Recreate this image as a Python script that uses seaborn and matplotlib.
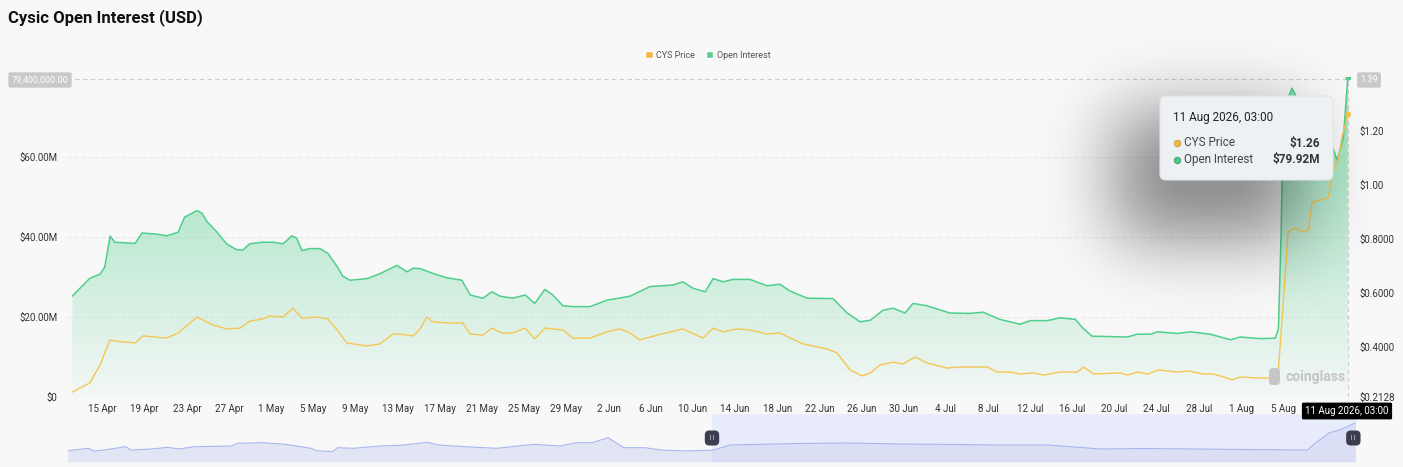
import math
import numpy as np
import pandas as pd
import matplotlib
matplotlib.use("Agg")
import matplotlib.pyplot as plt
import matplotlib.dates as mdates
import matplotlib.colors as mcolors
from matplotlib.patches import Patch, FancyBboxPatch
import seaborn as sns

# ---- data ----
oi_time = [
    "2026-04-12 03:00", "2026-04-13 19:00", "2026-04-14 18:00", "2026-04-15 05:00", "2026-04-15 17:00",
    "2026-04-16 04:00", "2026-04-18 02:00", "2026-04-18 18:00", "2026-04-20 04:00", "2026-04-21 02:00",
    "2026-04-22 04:00", "2026-04-22 19:00", "2026-04-23 23:00", "2026-04-24 10:00", "2026-04-24 22:00",
    "2026-04-25 20:00", "2026-04-26 19:00", "2026-04-27 18:00", "2026-04-28 08:00", "2026-04-28 23:00",
    "2026-04-30 05:00", "2026-05-01 04:00", "2026-05-02 03:00", "2026-05-02 23:00", "2026-05-03 10:00",
    "2026-05-03 22:00", "2026-05-04 16:00", "2026-05-05 15:00", "2026-05-06 09:00", "2026-05-07 06:00",
    "2026-05-07 19:00", "2026-05-08 11:00", "2026-05-10 02:00", "2026-05-11 07:00", "2026-05-12 22:00",
    "2026-05-13 21:00", "2026-05-14 11:00", "2026-05-15 03:00", "2026-05-16 08:00", "2026-05-17 16:00",
    "2026-05-19 02:00", "2026-05-19 21:00", "2026-05-21 02:00", "2026-05-21 22:00", "2026-05-22 17:00",
    "2026-05-23 22:00", "2026-05-25 02:00", "2026-05-26 00:00", "2026-05-26 23:00", "2026-05-27 17:00",
    "2026-05-28 16:00", "2026-05-29 15:00", "2026-05-31 06:00", "2026-06-01 20:00", "2026-06-04 01:00",
    "2026-06-05 22:00", "2026-06-08 03:00", "2026-06-09 01:00", "2026-06-10 00:00", "2026-06-11 04:00",
    "2026-06-11 22:00", "2026-06-12 21:00", "2026-06-13 19:00", "2026-06-15 10:00", "2026-06-17 01:00",
    "2026-06-18 06:00", "2026-06-19 05:00", "2026-06-20 20:00", "2026-06-23 07:00", "2026-06-24 15:00",
    "2026-06-25 21:00", "2026-06-26 20:00", "2026-06-28 01:00", "2026-06-29 00:00", "2026-06-30 03:00",
    "2026-06-30 21:00", "2026-07-02 05:00", "2026-07-04 09:00", "2026-07-06 07:00", "2026-07-07 13:00",
    "2026-07-09 03:00", "2026-07-11 01:00", "2026-07-12 00:00", "2026-07-13 15:00", "2026-07-14 20:00",
    "2026-07-16 07:00", "2026-07-16 23:00", "2026-07-17 21:00", "2026-07-21 05:00", "2026-07-22 04:00",
    "2026-07-23 10:00", "2026-07-24 02:00", "2026-07-25 23:00", "2026-07-27 05:00", "2026-07-29 02:00",
    "2026-07-31 00:00", "2026-07-31 22:00", "2026-08-02 20:00", "2026-08-04 06:00", "2026-08-04 13:00",
    "2026-08-04 19:00", "2026-08-04 23:00", "2026-08-05 08:00", "2026-08-05 20:00", "2026-08-06 06:00",
    "2026-08-06 20:00", "2026-08-07 16:00", "2026-08-08 12:00", "2026-08-09 11:00", "2026-08-10 03:00",
    "2026-08-10 17:00", "2026-08-11 03:00",
]
oi_musd = [
    25.2, 29.7, 30.7, 32.5, 40.2,
    38.7, 38.4, 41.0, 40.7, 40.3,
    41.2, 45.0, 46.6, 46.0, 43.8,
    41.3, 38.2, 36.8, 36.8, 38.3,
    38.7, 38.7, 38.3, 40.3, 39.7,
    36.6, 37.1, 37.1, 35.9, 32.6,
    30.2, 29.2, 29.6, 30.8, 32.9,
    31.3, 32.2, 32.1, 30.9, 29.8,
    29.2, 25.5, 24.7, 26.3, 25.2,
    24.7, 25.5, 23.4, 26.9, 25.5,
    22.8, 22.6, 22.6, 24.2, 25.2,
    27.6, 28.0, 28.8, 27.2, 26.3,
    29.6, 28.8, 29.4, 29.4, 27.8,
    28.2, 26.5, 24.7, 24.6, 21.0,
    18.8, 19.2, 21.7, 22.2, 21.0,
    23.4, 22.8, 21.0, 20.9, 21.2,
    19.4, 18.2, 19.1, 19.1, 19.8,
    19.4, 17.3, 15.2, 15.0, 15.7,
    15.7, 16.3, 15.9, 16.3, 15.7,
    14.3, 15.0, 14.6, 14.7, 17.0,
    40.0, 66.0, 74.0, 77.2, 75.0,
    71.0, 69.0, 67.0, 64.0, 59.2,
    65.0, 79.92,
]

price_time = [
    "2026-04-12 03:00", "2026-04-13 19:00", "2026-04-14 18:00", "2026-04-15 05:00", "2026-04-15 17:00",
    "2026-04-16 04:00", "2026-04-18 02:00", "2026-04-18 20:00", "2026-04-21 02:00", "2026-04-22 04:00",
    "2026-04-23 23:00", "2026-04-25 11:00", "2026-04-26 19:00", "2026-04-28 01:00", "2026-04-28 23:00",
    "2026-04-30 05:00", "2026-04-30 21:00", "2026-05-02 03:00", "2026-05-03 01:00", "2026-05-03 22:00",
    "2026-05-05 08:00", "2026-05-06 09:00", "2026-05-07 06:00", "2026-05-08 04:00", "2026-05-10 02:00",
    "2026-05-11 07:00", "2026-05-12 13:00", "2026-05-13 05:00", "2026-05-14 11:00", "2026-05-15 03:00",
    "2026-05-15 18:00", "2026-05-16 08:00", "2026-05-17 16:00", "2026-05-19 04:00", "2026-05-19 21:00",
    "2026-05-21 02:00", "2026-05-21 22:00", "2026-05-22 21:00", "2026-05-23 22:00", "2026-05-25 02:00",
    "2026-05-26 00:00", "2026-05-26 23:00", "2026-05-28 16:00", "2026-05-29 15:00", "2026-05-31 06:00",
    "2026-06-01 20:00", "2026-06-03 02:00", "2026-06-04 01:00", "2026-06-04 23:00", "2026-06-06 14:00",
    "2026-06-09 01:00", "2026-06-10 23:00", "2026-06-11 22:00", "2026-06-12 21:00", "2026-06-14 05:00",
    "2026-06-15 10:00", "2026-06-17 01:00", "2026-06-18 06:00", "2026-06-20 11:00", "2026-06-22 17:00",
    "2026-06-23 16:00", "2026-06-24 22:00", "2026-06-26 01:00", "2026-06-26 20:00", "2026-06-27 18:00",
    "2026-06-29 00:00", "2026-06-29 22:00", "2026-07-01 02:00", "2026-07-02 05:00", "2026-07-04 03:00",
    "2026-07-05 08:00", "2026-07-07 22:00", "2026-07-08 21:00", "2026-07-10 02:00", "2026-07-11 01:00",
    "2026-07-12 07:00", "2026-07-13 06:00", "2026-07-14 20:00", "2026-07-16 11:00", "2026-07-17 01:00",
    "2026-07-18 00:00", "2026-07-20 13:00", "2026-07-21 05:00", "2026-07-22 04:00", "2026-07-23 04:00",
    "2026-07-24 03:00", "2026-07-25 23:00", "2026-07-27 00:00", "2026-07-28 10:00", "2026-07-29 09:00",
    "2026-07-30 08:00", "2026-07-31 04:00", "2026-07-31 22:00", "2026-08-02 20:00", "2026-08-04 06:00",
    "2026-08-04 13:00", "2026-08-05 00:00", "2026-08-05 11:00", "2026-08-06 03:00", "2026-08-06 22:00",
    "2026-08-07 09:00", "2026-08-07 18:00", "2026-08-08 12:00", "2026-08-09 06:00", "2026-08-09 18:00",
    "2026-08-10 05:00", "2026-08-10 14:00", "2026-08-11 03:00",
]
price_usd = [
    0.231, 0.265, 0.331, 0.376, 0.424,
    0.420, 0.413, 0.439, 0.431, 0.450,
    0.509, 0.480, 0.465, 0.468, 0.494,
    0.502, 0.513, 0.509, 0.542, 0.505,
    0.509, 0.502, 0.461, 0.413, 0.402,
    0.409, 0.446, 0.446, 0.439, 0.465,
    0.509, 0.491, 0.487, 0.487, 0.446,
    0.442, 0.468, 0.450, 0.450, 0.468,
    0.428, 0.468, 0.461, 0.431, 0.431,
    0.454, 0.465, 0.450, 0.424, 0.442,
    0.465, 0.431, 0.468, 0.454, 0.465,
    0.461, 0.446, 0.450, 0.409, 0.391,
    0.376, 0.313, 0.291, 0.302, 0.331,
    0.342, 0.335, 0.361, 0.339, 0.320,
    0.324, 0.324, 0.305, 0.305, 0.298,
    0.302, 0.294, 0.305, 0.305, 0.324,
    0.298, 0.302, 0.294, 0.305, 0.298,
    0.313, 0.305, 0.309, 0.298, 0.298,
    0.287, 0.276, 0.287, 0.283, 0.283,
    0.313, 0.561, 0.824, 0.839, 0.824,
    0.831, 0.935, 0.942, 0.950, 1.053,
    1.090, 1.176, 1.26,
]

# navigator (overview strip) series, relative height
nav_time = [
    "2025-12-11", "2025-12-15", "2025-12-16", "2025-12-18", "2025-12-22", "2025-12-23", "2025-12-27",
    "2025-12-30", "2026-01-01", "2026-01-04", "2026-01-11", "2026-01-12", "2026-01-17", "2026-01-21",
    "2026-01-26", "2026-01-27", "2026-01-30", "2026-01-31", "2026-02-03", "2026-02-08", "2026-02-12",
    "2026-02-17", "2026-02-19", "2026-02-24", "2026-03-02", "2026-03-09", "2026-03-14", "2026-03-17",
    "2026-03-20", "2026-03-23", "2026-03-26", "2026-03-30", "2026-04-02", "2026-04-07", "2026-04-12",
    "2026-04-15", "2026-04-28", "2026-05-07", "2026-05-17", "2026-05-28", "2026-06-04", "2026-06-14",
    "2026-06-24", "2026-07-02", "2026-07-12", "2026-07-21", "2026-08-02", "2026-08-03", "2026-08-06",
    "2026-08-08", "2026-08-11",
]
nav_level = [
    11.3, 13.7, 11.0, 12.0, 15.3, 12.0, 13.0,
    14.7, 13.0, 15.3, 16.0, 18.7, 19.3, 17.7,
    13.7, 11.3, 10.3, 14.3, 13.7, 16.0, 16.7,
    19.7, 17.0, 15.3, 13.7, 17.7, 16.0, 19.3,
    19.3, 24.3, 14.3, 14.3, 12.0, 11.0, 12.0,
    17.0, 18.5, 19.0, 18.0, 17.5, 17.0, 17.0,
    13.0, 13.5, 13.0, 12.5, 12.0, 17.0, 29.0,
    32.0, 39.0,
]

left_ticks = [0, 20, 40, 60]
left_labels = ["$0", "$20.00M", "$40.00M", "$60.00M"]
right_ticks = [0.2128, 0.4, 0.6, 0.8, 1.0, 1.2]
right_labels = ["$0.2128", "$0.4000", "$0.6000", "$0.8000", "$1.00", "$1.20"]
x_tick_dates = pd.date_range("2026-04-15", "2026-08-05", freq="4D")
x_tick_labels = [f"{d.day} {d.strftime('%b')}" for d in x_tick_dates]

hover_time = pd.Timestamp("2026-08-11 03:00")
hover_price = 1.26
hover_oi = 79.92

# ---- style ----
BG = "#f8f8f8"
GREEN = "#4fcf8c"
YELLOW = "#f5c653"
W, H = 1403, 467

sns.set_style("white")
plt.rcParams["font.family"] = ["Roboto", "DejaVu Sans"]

oi = pd.DataFrame({"time": pd.to_datetime(oi_time), "oi": oi_musd})
prc = pd.DataFrame({"time": pd.to_datetime(price_time), "price": price_usd})
nav = pd.DataFrame({"time": pd.to_datetime(nav_time), "level": nav_level})


def box(l, t, r, b):
    return [l / W, 1 - b / H, (r - l) / W, (b - t) / H]


fig = plt.figure(figsize=(W / 100, H / 100), dpi=100, facecolor=BG)

ax = fig.add_axes(box(67, 77, 1350, 397))
ax.set_facecolor(BG)
x0, x1 = pd.Timestamp("2026-04-11 15:00"), pd.Timestamp("2026-08-11 08:00")

# gradient area under open interest
poly = ax.fill_between(oi["time"], oi["oi"], 0, facecolor="none", edgecolor="none")
grad = np.zeros((256, 1, 4))
grad[..., :3] = mcolors.to_rgb(GREEN)
grad[:, 0, 3] = np.linspace(0.03, 0.62, 256)
img = ax.imshow(grad, extent=[mdates.date2num(x0), mdates.date2num(x1), 0, 80],
                origin="lower", aspect="auto", zorder=1)
img.set_clip_path(poly.get_paths()[0], transform=ax.transData)

sns.lineplot(data=oi, x="time", y="oi", ax=ax, color=GREEN, linewidth=1.1, zorder=3)
ax.scatter([hover_time], [hover_oi], s=12, color=GREEN, zorder=5)
ax.set_xlim(x0, x1)
ax.set_ylim(0, 80)
ax.set_yticks(left_ticks)
ax.set_yticklabels(left_labels)
ax.set_xticks(x_tick_dates)
ax.set_xticklabels(x_tick_labels)
ax.set_xlabel("")
ax.set_ylabel("")
ax.yaxis.grid(True, color="#e6e6e6", lw=0.7, ls=(0, (4, 3)))
ax.xaxis.grid(False)
ax.tick_params(length=0, labelsize=7, colors="#333333")
ax.tick_params(axis="y", pad=7)
ax.tick_params(axis="x", pad=5)
for s in ax.spines.values():
    s.set_visible(False)

# crosshair at hovered point
ax.axhline(79.4, color="#cccccc", lw=0.8, ls=(0, (4, 3)), zorder=4)
ax.axvline(hover_time, color="#cccccc", lw=0.8, ls=(0, (4, 3)), zorder=4)

ax2 = ax.twinx()
sns.lineplot(data=prc, x="time", y="price", ax=ax2, color=YELLOW, linewidth=1.0, zorder=3)
ax2.scatter([hover_time], [hover_price], s=12, color=YELLOW, zorder=5)
ax2.set_ylim(0.2128, 1.398)
ax2.set_xlim(x0, x1)
ax2.set_yticks(right_ticks)
ax2.set_yticklabels(right_labels)
ax2.set_ylabel("")
ax2.tick_params(length=0, labelsize=7, colors="#333333", pad=7)
for s in ax2.spines.values():
    s.set_visible(False)

# navigator strip
nax = fig.add_axes(box(68, 414, 1356, 462))
nax.set_facecolor(BG)
n0, n1 = pd.Timestamp("2025-12-11 03:00"), pd.Timestamp("2026-08-11 03:00")
nax.axvspan(pd.Timestamp("2026-04-11 15:00"), n1, color="#e8ebfa", zorder=0, lw=0)
nax.fill_between(nav["time"], nav["level"], 0, color="#c9d1f1", alpha=0.45, lw=0, zorder=1)
sns.lineplot(data=nav, x="time", y="level", ax=nax, color="#a7b6ee", linewidth=0.8, zorder=2)
nax.set_xlim(n0, n1)
nax.set_ylim(0, 48)
nax.axis("off")
for t in [pd.Timestamp("2026-04-11 15:00"), n1 - pd.Timedelta(hours=12)]:
    nax.text(t, 24, "| |", fontsize=4, color="white", ha="center", va="center", zorder=5,
             weight="bold",
             bbox=dict(boxstyle="round,pad=0.9,rounding_size=0.8", fc="#3a3e50", ec="none"))

# overlay in pixel coordinates for tooltip, labels, watermark
ov = fig.add_axes([0, 0, 1, 1], zorder=10)
ov.patch.set_alpha(0)

# soft drop shadow of the tooltip (blurred box)
erf = np.vectorize(math.erf)
sig = 50.0
gx = 0.5 * (erf((np.arange(W) - 1115) / sig) - erf((np.arange(W) - 1300) / sig))
gy = 0.5 * (erf((np.arange(H) - 112) / sig) - erf((np.arange(H) - 238) / sig))
shadow = np.zeros((H, W, 4))
shadow[..., 3] = 0.46 * np.outer(gy, gx)
ov.imshow(shadow, extent=[0, W, H, 0], zorder=1, interpolation="bilinear")
ov.set_xlim(0, W)
ov.set_ylim(H, 0)
ov.axis("off")

ov.add_patch(FancyBboxPatch((1160, 96), 173, 84, boxstyle="round,pad=0,rounding_size=6",
                            fc="#eef1f4", ec="#e1e4e9", lw=0.8, zorder=3))
ov.text(1173, 117, "11 Aug 2026, 03:00", fontsize=8.5, color="#222222", va="center", zorder=4)
ov.scatter([1177], [143], s=22, color="#f0b84a", edgecolor="#c99a3a", lw=0.6, zorder=4)
ov.scatter([1177], [160], s=22, color="#4fc987", edgecolor="#3a9e68", lw=0.6, zorder=4)
ov.text(1184, 143, "CYS Price", fontsize=8.5, color="#444444", va="center", zorder=4)
ov.text(1184, 160, "Open Interest", fontsize=8.5, color="#444444", va="center", zorder=4)
ov.text(1320, 143, f"${hover_price:.2f}", fontsize=8.5, color="#333333", va="center", ha="right",
        weight="semibold", zorder=4)
ov.text(1320, 160, f"${hover_oi:.2f}M", fontsize=8.5, color="#333333", va="center", ha="right",
        weight="semibold", zorder=4)

ov.text(40, 80, "79,400,000.00", fontsize=6.5, color="white", ha="center", va="center", zorder=4,
        bbox=dict(boxstyle="round,pad=0.35,rounding_size=0.2", fc="#c9c9c9", ec="none"))
ov.text(1369, 80, "1.39", fontsize=6.5, color="white", ha="center", va="center", zorder=4,
        bbox=dict(boxstyle="round,pad=0.35,rounding_size=0.2", fc="#c9c9c9", ec="none"))
ov.text(1347, 411, "11 Aug 2026, 03:00", fontsize=7, color="white", ha="center", va="center", zorder=4,
        bbox=dict(boxstyle="round,pad=0.35,rounding_size=0.15", fc="#000000", ec="none"))

ov.add_patch(FancyBboxPatch((1269, 368), 11, 17, boxstyle="round,pad=0,rounding_size=4",
                            fc="#c6c6c6", ec="none", zorder=2))
ov.text(1285, 377, "coinglass", fontsize=10, color="#c4c4c4", weight="bold", va="center", zorder=2)

fig.text(8 / W, 1 - 18 / H, "Cysic Open Interest (USD)", fontsize=12, weight="bold",
         color="#111111", va="center")
fig.legend(handles=[Patch(fc="#f2b84b", label="CYS Price"), Patch(fc="#5ccb8f", label="Open Interest")],
           loc="center", bbox_to_anchor=(708 / W, 1 - 55 / H), ncol=2, frameon=False, fontsize=6.5,
           handlelength=0.8, handleheight=0.8, handletextpad=0.4, columnspacing=1.2, labelcolor="#555555")

fig.savefig("out.png", dpi=100, facecolor=BG)
